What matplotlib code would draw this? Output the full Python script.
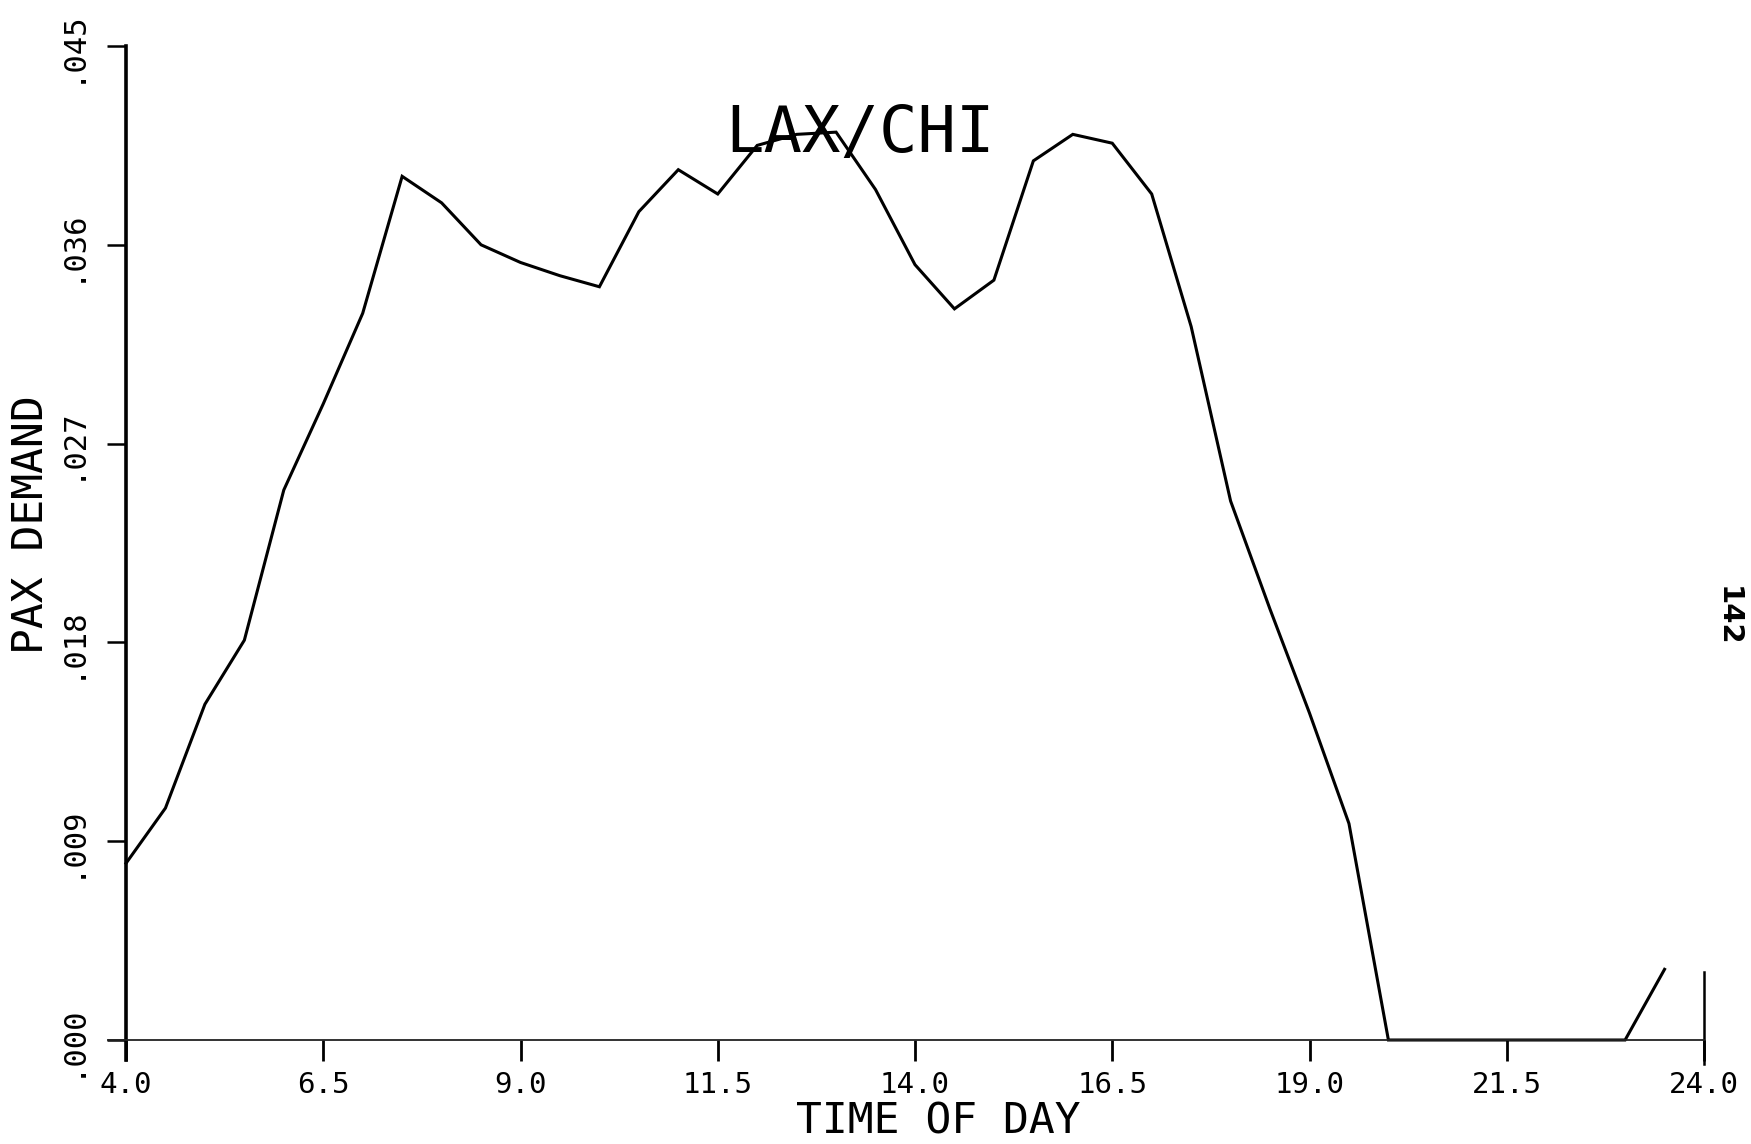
import matplotlib.pyplot as plt
from matplotlib.ticker import FixedLocator

# LAX/CHI passenger demand by time of day (half-hour steps)
hours = [4.0, 4.5, 5.0, 5.5, 6.0, 6.5, 7.0, 7.5, 8.0, 8.5,
         9.0, 9.5, 10.0, 10.5, 11.0, 11.5, 12.0, 12.5, 13.0, 13.5,
         14.0, 14.5, 15.0, 15.5, 16.0, 16.5, 17.0, 17.5, 18.0, 18.5,
         19.0, 19.5, 20.0, 20.5, 21.0, 21.5, 22.0, 22.5, 23.0, 23.5]
demand = [0.0080, 0.0105, 0.0152, 0.0181, 0.0249, 0.0288, 0.0329, 0.0391, 0.0379, 0.0360,
          0.0352, 0.0346, 0.0341, 0.0375, 0.0394, 0.0383, 0.0405, 0.0410, 0.0411, 0.0385,
          0.0351, 0.0331, 0.0344, 0.0398, 0.0410, 0.0406, 0.0383, 0.0323, 0.0244, 0.0195,
          0.0148, 0.0098, 0.0, 0.0, 0.0, 0.0, 0.0, 0.0, 0.0, 0.0032]

xticks = [4.0, 6.5, 9.0, 11.5, 14.0, 16.5, 19.0, 21.5, 24.0]
yticks = [0.0, 0.009, 0.018, 0.027, 0.036, 0.045]
ytick_labels = ['.000', '.009', '.018', '.027', '.036', '.045']

mono = 'DejaVu Sans Mono'

fig = plt.figure(figsize=(17.51, 11.44), dpi=100)
ax = fig.add_axes([126 / 1751, 1 - 1040 / 1144, (1704 - 126) / 1751, (1040 - 46) / 1144])

ax.plot(hours, demand, color='black', linewidth=2.2, solid_joinstyle='miter', clip_on=False)

ax.set_xlim(4.0, 24.0)
ax.set_ylim(0.0, 0.045)

ax.spines['top'].set_visible(False)
ax.spines['left'].set_linewidth(2.6)
ax.spines['left'].set_bounds(-0.0009, 0.045)
ax.spines['bottom'].set_linewidth(1.3)
ax.spines['bottom'].set_color('#222222')
ax.spines['bottom'].set_bounds(3.77, 24.0)
ax.spines['right'].set_linewidth(1.8)
ax.spines['right'].set_bounds(-0.0011, 0.0031)

ax.xaxis.set_major_locator(FixedLocator(xticks))
ax.set_xticklabels(['%.1f' % t for t in xticks], family=mono, fontsize=21)
ax.tick_params(axis='x', direction='out', length=15, width=2.0, pad=7)

ax.yaxis.set_major_locator(FixedLocator(yticks))
ax.set_yticklabels(ytick_labels, family=mono, fontsize=22, rotation=90, va='center')
ax.tick_params(axis='y', direction='out', length=14, width=1.8, pad=15)
ax.tick_params(axis='y', which='both', right=False)

ax.set_xlabel('TIME OF DAY', family=mono, fontsize=31)
ax.xaxis.set_label_coords(0.515, -0.061)
ax.set_ylabel('PAX DEMAND', family=mono, fontsize=31)
ax.yaxis.set_label_coords(-0.047, 0.518)

ax.text(13.3, 0.0410, 'LAX/CHI', family=mono, fontsize=46, ha='center', va='center')

fig.text(1728 / 1751, 1 - 616 / 1144, '142', fontsize=21, fontweight='bold',
         rotation=270, ha='center', va='center')

fig.savefig('out.png', dpi=100)
